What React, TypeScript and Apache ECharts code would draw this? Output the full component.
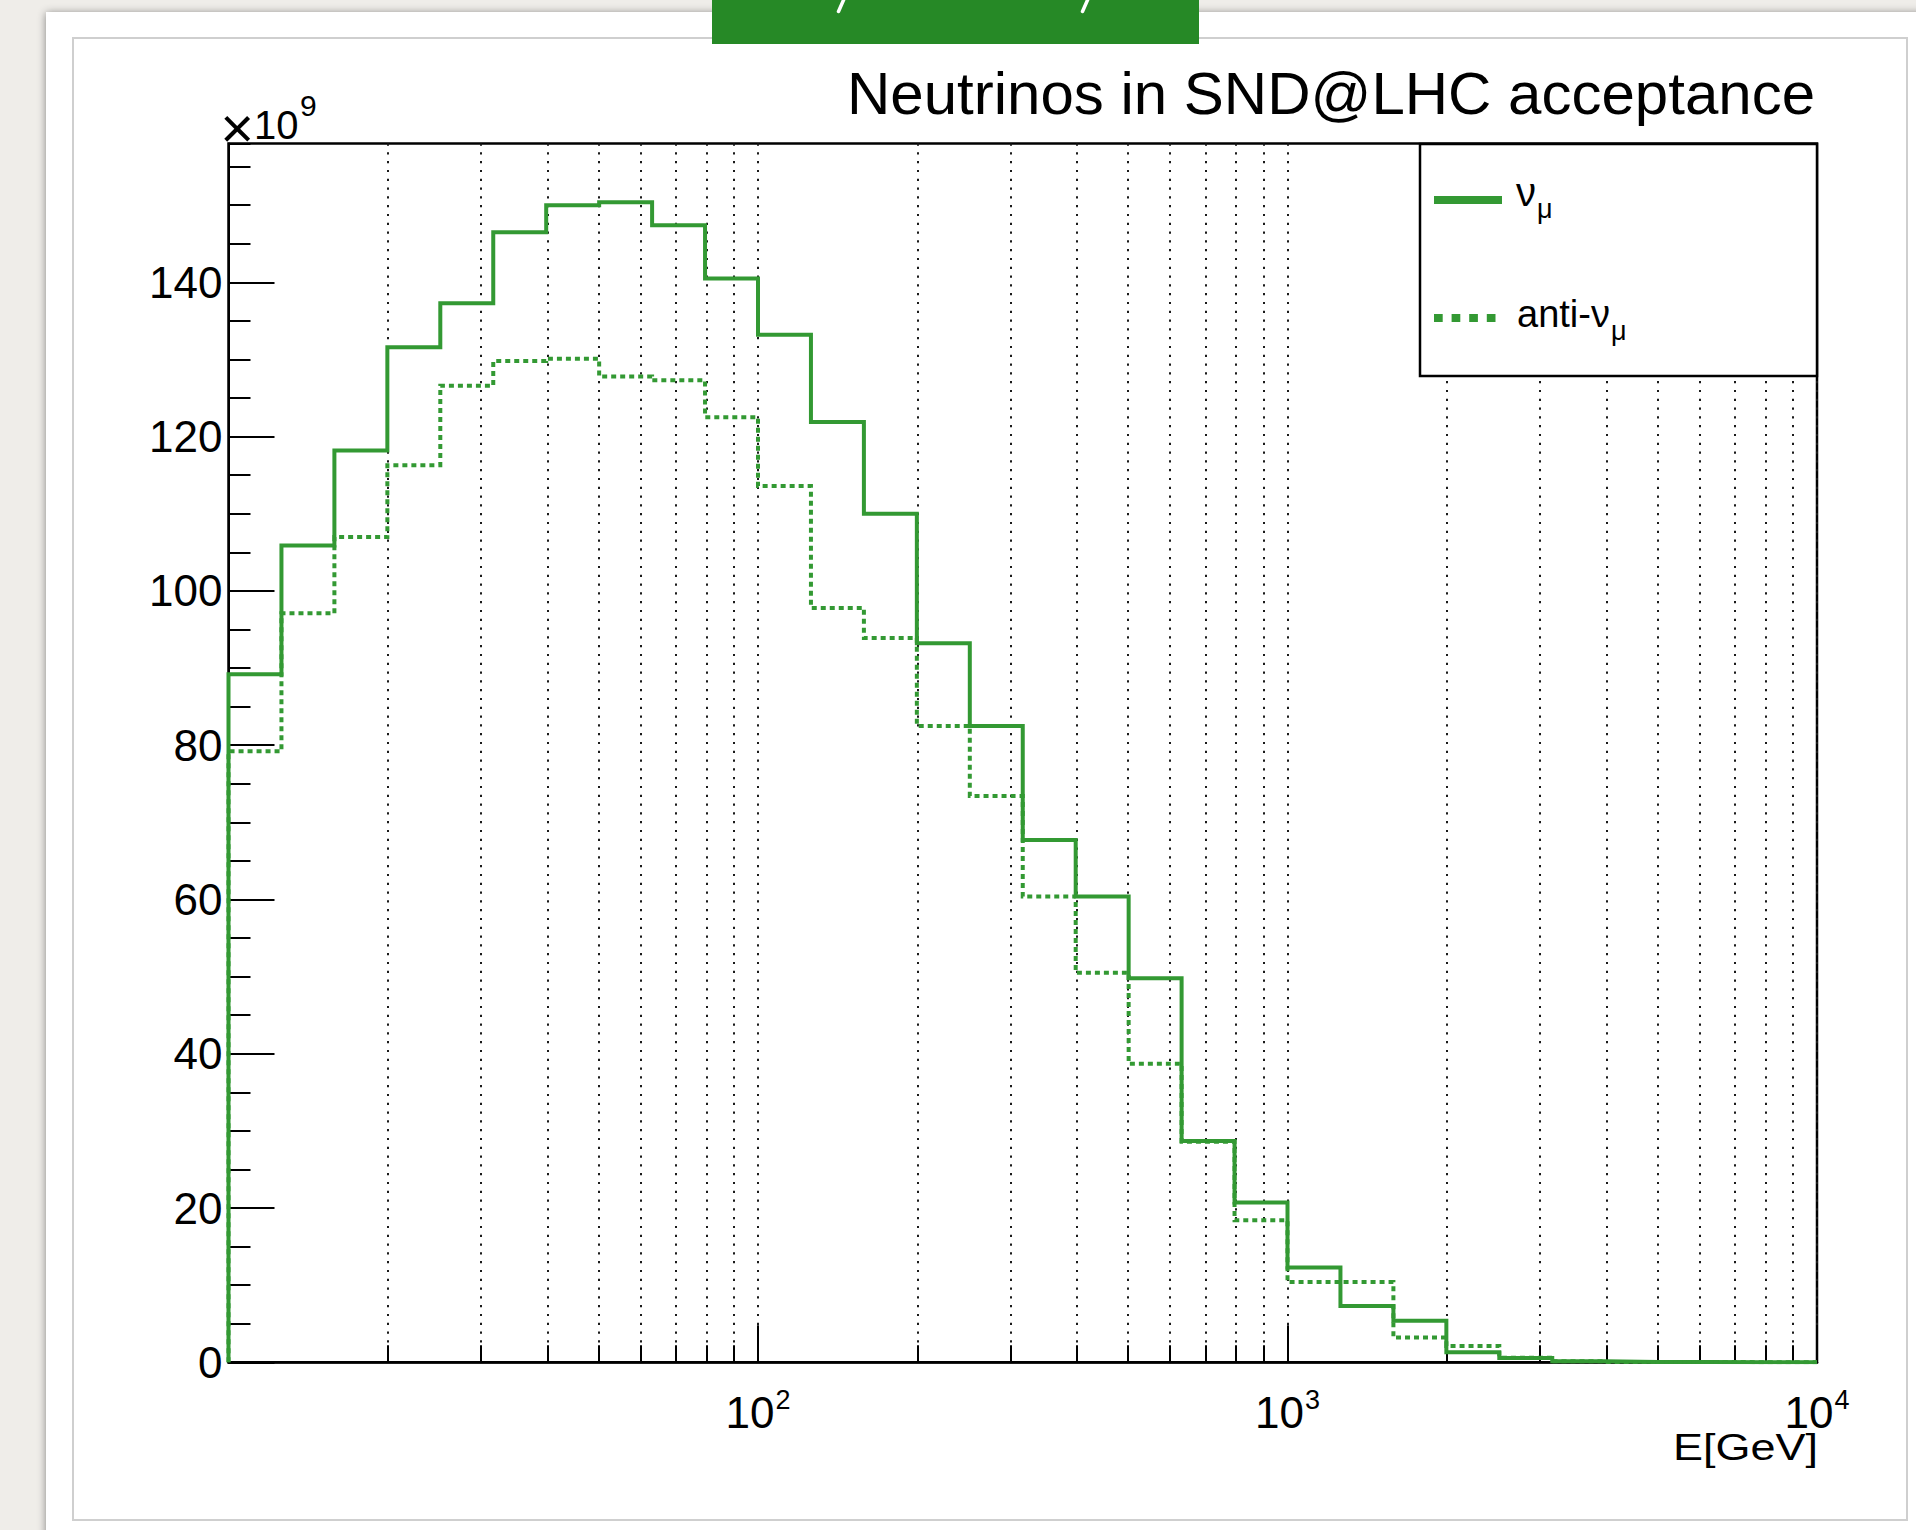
import React, { useEffect, useRef } from 'react';
import * as echarts from 'echarts';

// ---- data ----
const binEdges = [
  10, 12.589, 15.849, 19.953, 25.119, 31.623, 39.811, 50.119, 63.096, 79.433,
  100, 125.89, 158.49, 199.53, 251.19, 316.23, 398.11, 501.19, 630.96, 794.33,
  1000, 1258.9, 1584.9, 1995.3, 2511.9, 3162.3, 3981.1, 5011.9, 6309.6, 7943.3,
  10000,
];
const nuMu = [
  89.2, 105.9, 118.2, 131.6, 137.3, 146.5, 150.0, 150.4, 147.4, 140.5,
  133.2, 121.9, 110.0, 93.2, 82.5, 67.7, 60.4, 49.8, 28.7, 20.7,
  12.3, 7.3, 5.4, 1.3, 0.55, 0.12, 0.05, 0.03, 0.02, 0.01,
];
const antiNuMu = [
  79.2, 97.1, 107.0, 116.3, 126.6, 129.8, 130.1, 127.8, 127.3, 122.5,
  113.6, 97.8, 93.9, 82.5, 73.4, 60.4, 50.5, 38.7, 28.6, 18.4,
  10.4, 10.4, 3.2, 2.1, 0.6, 0.15, 0.05, 0.03, 0.02, 0.01,
];
const seriesNames = ['ν_μ', 'anti-ν_μ'];
const xLabelExponents = [2, 3, 4];
const yMin = 0;
const yMax = 158;
const yMajorStep = 20;
const yMinorStep = 5;
const xMin = 10;
const xMax = 10000;

const FONT = '"Liberation Sans", Arial, Helvetica, sans-serif';
const GREEN = '#339933';

function stepPoints(edges: number[], vals: number[]) {
  const pts: number[][] = [[edges[0], 0]];
  vals.forEach((v, i) => {
    pts.push([edges[i], v]);
    pts.push([edges[i + 1], v]);
  });
  return pts;
}

const dotted = { color: '#1a1a1a', width: 2, type: [2.2, 6.6] as any };

export default function App() {
  const ref = useRef<HTMLDivElement>(null);
  useEffect(() => {
    if (!ref.current) return;
    const chart = echarts.init(ref.current, undefined, { renderer: 'svg' });
    const option: any = {
      animation: false,
      backgroundColor: '#efede9',
      title: {
        text: 'Neutrinos in SND@LHC acceptance',
        right: 101,
        top: 63,
        padding: 0,
        textStyle: { fontFamily: FONT, fontSize: 60, fontWeight: 'normal', color: '#000', lineHeight: 60 },
      },
      grid: {
        left: 228.5,
        top: 143.5,
        width: 1588.5,
        height: 1218.8,
        show: true,
        borderColor: '#000',
        borderWidth: 2.5,
        backgroundColor: 'transparent',
        containLabel: false,
        outerBoundsMode: 'none',
      },
      xAxis: {
        type: 'log',
        logBase: 10,
        min: xMin,
        max: xMax,
        axisLine: { show: true, onZero: false, lineStyle: { color: '#000', width: 2.5 } },
        axisTick: { show: true, inside: true, length: 37, lineStyle: { color: '#000', width: 2 } },
        minorTick: { show: true, splitNumber: 9, length: 17, lineStyle: { color: '#000', width: 2 } },
        splitLine: { show: true, lineStyle: dotted },
        minorSplitLine: { show: true, lineStyle: dotted },
        axisLabel: {
          show: true,
          margin: 28,
          color: '#000',
          fontFamily: FONT,
          showMinLabel: true,
          showMaxLabel: true,
          formatter: (v: number) => {
            const e = Math.round(Math.log10(v));
            return xLabelExponents.indexOf(e) >= 0 ? `{b|10}{s|${e}}` : '';
          },
          rich: {
            b: { fontFamily: FONT, fontSize: 44, lineHeight: 44, color: '#000' },
            s: { fontFamily: FONT, fontSize: 27, lineHeight: 27, color: '#000', padding: [0, 0, 25, 1] },
          },
        },
      },
      yAxis: [
        {
          type: 'value',
          min: yMin,
          max: yMax,
          interval: yMajorStep,
          position: 'left',
          axisLine: { show: true, onZero: false, lineStyle: { color: '#000', width: 2 } },
          axisTick: { show: true, inside: true, length: 46, lineStyle: { color: '#000', width: 2 } },
          axisLabel: {
            show: true,
            margin: 6,
            color: '#000',
            fontFamily: FONT,
            fontSize: 44,
            showMaxLabel: false,
          },
          splitLine: { show: false },
        },
        {
          type: 'value',
          min: yMin,
          max: yMax,
          interval: yMinorStep,
          position: 'left',
          offset: 0,
          axisLine: { show: false },
          axisTick: { show: true, inside: true, length: 22, lineStyle: { color: '#000', width: 2 } },
          axisLabel: { show: false },
          splitLine: { show: false },
        },
      ],
      series: [
        {
          name: seriesNames[0],
          type: 'line',
          data: stepPoints(binEdges, nuMu),
          showSymbol: false,
          symbol: 'none',
          z: 3,
          lineStyle: { color: GREEN, width: 4, cap: 'butt', join: 'miter' },
        },
        {
          name: seriesNames[1],
          type: 'line',
          data: stepPoints(binEdges, antiNuMu),
          showSymbol: false,
          symbol: 'none',
          z: 3,
          lineStyle: { color: GREEN, width: 4, type: [5, 4], cap: 'butt', join: 'miter' },
        },
      ],
      graphic: [
        // page / slide panels
        { type: 'rect', z: -20, shape: { x: 46, y: 12, width: 1910, height: 1560 }, style: { fill: '#ffffff', shadowBlur: 9, shadowColor: 'rgba(0,0,0,0.45)', shadowOffsetX: 0, shadowOffsetY: 1 } },
        { type: 'rect', z: -19, shape: { x: 73, y: 38, width: 1834, height: 1482 }, style: { fill: '#ffffff', stroke: '#cfcfcf', lineWidth: 2 } },
        { type: 'rect', z: -18, shape: { x: 712, y: 0, width: 487, height: 44 }, style: { fill: '#268926' } },
        { type: 'line', z: -17, shape: { x1: 838.5, y1: 11.5, x2: 844, y2: -1 }, style: { stroke: '#ffffff', lineWidth: 3.5, lineCap: 'round' } },
        { type: 'line', z: -17, shape: { x1: 1082.5, y1: 11.5, x2: 1088, y2: -1 }, style: { stroke: '#ffffff', lineWidth: 3.5, lineCap: 'round' } },
        // y-axis multiplier
        { type: 'text', z: 20, x: 254, y: 127, style: { text: '×', fontFamily: FONT, fontSize: 58, fill: '#000', textAlign: 'right', textVerticalAlign: 'middle' } },
        { type: 'text', z: 20, x: 254, y: 125, style: { text: '10', fontFamily: FONT, fontSize: 40, fill: '#000', textAlign: 'left', textVerticalAlign: 'middle' } },
        { type: 'text', z: 20, x: 300, y: 105, style: { text: '9', fontFamily: FONT, fontSize: 30, fill: '#000', textAlign: 'left', textVerticalAlign: 'middle' } },
        // x-axis title
        { type: 'text', z: 20, x: 1818, y: 1447, scaleY: 0.82, style: { text: 'E[GeV]', fontFamily: FONT, fontSize: 45, fill: '#000', textAlign: 'right', textVerticalAlign: 'middle' } },
        // legend
        {
          type: 'group',
          z: 50,
          children: [
            { type: 'rect', z: 50, shape: { x: 1420, y: 144, width: 397, height: 232 }, style: { fill: '#ffffff', stroke: '#000', lineWidth: 2.5 } },
            { type: 'line', z: 51, shape: { x1: 1434, y1: 200, x2: 1502, y2: 200 }, style: { stroke: GREEN, lineWidth: 8 } },
            { type: 'line', z: 51, shape: { x1: 1434, y1: 318, x2: 1497, y2: 318 }, style: { stroke: GREEN, lineWidth: 8, lineDash: [8.7, 8.9] } },
            {
              type: 'text', z: 51, x: 1516, y: 192,
              style: {
                text: '{a|ν}{s|μ}', textAlign: 'left', textVerticalAlign: 'middle',
                rich: {
                  a: { fontFamily: FONT, fontSize: 40, lineHeight: 42, fill: '#000' },
                  s: { fontFamily: FONT, fontSize: 27, lineHeight: 27, fill: '#000', padding: [34, 0, 0, 1] },
                },
              },
            },
            {
              type: 'text', z: 51, x: 1517, y: 314,
              style: {
                text: '{a|anti-ν}{s|μ}', textAlign: 'left', textVerticalAlign: 'middle',
                rich: {
                  a: { fontFamily: FONT, fontSize: 38, lineHeight: 42, fill: '#000' },
                  s: { fontFamily: FONT, fontSize: 27, lineHeight: 27, fill: '#000', padding: [34, 0, 0, 1] },
                },
              },
            },
          ],
        },
      ],
    };
    chart.setOption(option);
    return () => chart.dispose();
  }, []);
  return (
    <div
      ref={ref}
      style={{ position: 'absolute', left: 0, top: 0, width: 1916, height: 1530, overflow: 'hidden' }}
    />
  );
}
